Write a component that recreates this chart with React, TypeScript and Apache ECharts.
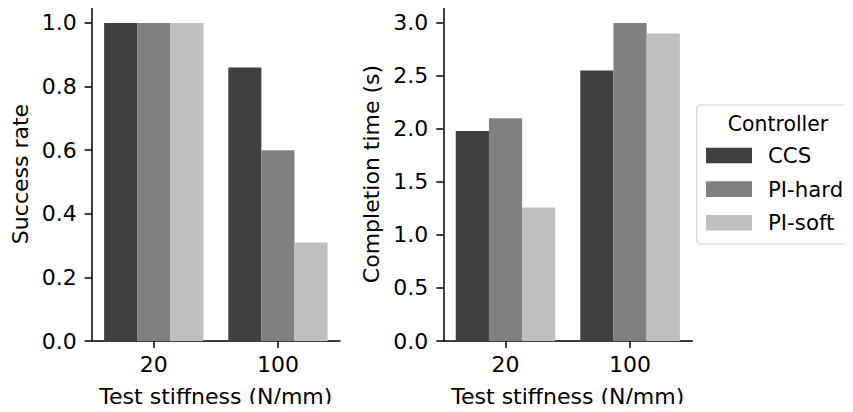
import React, { useEffect, useRef } from "react";
import * as echarts from "echarts";

const categories = ["20", "100"];
const controllers = ["CCS", "PI-hard", "PI-soft"];
const colors = ["#404040", "#808080", "#bfbfbf"];
const successRate = [
  [1.0, 0.86],
  [1.0, 0.6],
  [1.0, 0.31],
];
const completionTime = [
  [1.98, 2.55],
  [2.1, 3.0],
  [1.26, 2.9],
];
const successTicks = [0, 0.2, 0.4, 0.6, 0.8, 1.0];
const timeTicks = [0, 0.5, 1.0, 1.5, 2.0, 2.5, 3.0];

const FONT = "DejaVu Sans";

export default function App() {
  const ref = useRef<HTMLDivElement>(null);
  useEffect(() => {
    if (!ref.current) return;
    const chart = echarts.init(ref.current, undefined, { renderer: "svg" });
    const axisLine = { show: true, lineStyle: { color: "#000", width: 1.5 } };
    const axisTick = { show: true, length: 7, lineStyle: { color: "#000", width: 1.5 } };
    const xAxisBase = (gridIndex: number) => ({
      type: "category",
      gridIndex,
      data: categories,
      name: "Test stiffness (N/mm)",
      nameLocation: "middle",
      nameGap: 44,
      nameTextStyle: { fontFamily: FONT, fontSize: 22, color: "#000", lineHeight: 22, verticalAlign: "top" },
      axisLine,
      axisTick: { ...axisTick, alignWithLabel: true },
      axisLabel: { fontFamily: FONT, fontSize: 22, color: "#000", margin: 12, lineHeight: 22 },
      splitLine: { show: false },
    });
    const yAxisBase = (gridIndex: number, name: string, max: number, ticks: number[], fmt: (v: number) => string, gap: number) => ({
      type: "value",
      gridIndex,
      min: 0,
      max,
      name,
      nameLocation: "middle",
      nameRotate: 90,
      nameGap: gap,
      nameTextStyle: { fontFamily: FONT, fontSize: 22, color: "#000", lineHeight: 22 },
      axisLine,
      axisTick: { ...axisTick, customValues: ticks },
      axisLabel: {
        fontFamily: FONT,
        fontSize: 22,
        color: "#000",
        margin: 15,
        customValues: ticks,
        formatter: (v: number) => fmt(v),
      },
      splitLine: { show: false },
    });
    const series: any[] = [];
    controllers.forEach((c, i) => {
      series.push({
        type: "bar",
        name: c,
        xAxisIndex: 0,
        yAxisIndex: 0,
        data: successRate[i],
        itemStyle: { color: colors[i] },
        barGap: "0%",
        barCategoryGap: "20%",
      });
    });
    controllers.forEach((c, i) => {
      series.push({
        type: "bar",
        name: c,
        xAxisIndex: 1,
        yAxisIndex: 1,
        data: completionTime[i],
        itemStyle: { color: colors[i] },
        barGap: "0%",
        barCategoryGap: "20%",
      });
    });
    chart.setOption({
      animation: false,
      backgroundColor: "#fff",
      grid: [
        { left: 91.7, top: 7, width: 248.3, height: 335.3 },
        { left: 443.3, top: 7, width: 249, height: 335.3 },
      ],
      xAxis: [xAxisBase(0), xAxisBase(1)],
      yAxis: [
        yAxisBase(0, "Success rate", 1.05, successTicks, (v) => v.toFixed(1), 60),
        yAxisBase(1, "Completion time (s)", 3.15, timeTicks, (v) => v.toFixed(1), 61),
      ],
      legend: {
        orient: "vertical",
        left: 706,
        top: 144.5,
        padding: 0,
        itemWidth: 46,
        itemHeight: 15.6,
        itemGap: 11.6,
        icon: "rect",
        data: controllers,
        selectedMode: false,
        textStyle: { fontFamily: FONT, fontSize: 21.3, color: "#000", lineHeight: 22, padding: [0, 0, 0, 11] },
      },
      graphic: [
        {
          type: "rect",
          z: 0,
          shape: { x: 696.7, y: 105, width: 170, height: 139, r: 4 },
          style: { fill: "#fff", stroke: "#d6d6d6", lineWidth: 1.2 },
        },
        {
          type: "text",
          z: 1,
          x: 778,
          y: 124,
          style: {
            text: "Controller",
            fontFamily: FONT,
            fontSize: 20.4,
            fill: "#000",
            textAlign: "center",
            textVerticalAlign: "middle",
          },
        },
      ],
      series,
    });
    return () => chart.dispose();
  }, []);
  return <div ref={ref} style={{ width: 853, height: 412, margin: -8 }} />;
}
